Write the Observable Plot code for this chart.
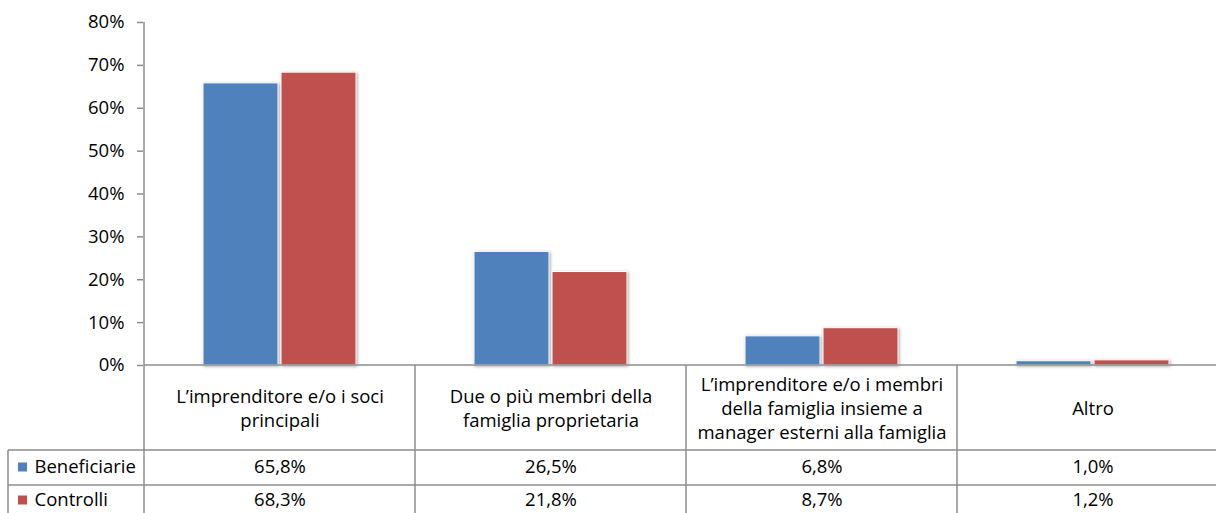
<!DOCTYPE html>
<html>
<head>
<meta charset="utf-8">
<script src="https://cdn.jsdelivr.net/npm/d3@7"></script>
<script src="https://cdn.jsdelivr.net/npm/@observablehq/plot@0.6"></script>
<style>
  html, body { margin: 0; padding: 0; background: #fff; overflow: hidden; }
  #chart { width: 1216px; height: 513px; }
</style>
</head>
<body>
<div id="chart"></div>
<script>
// ---- data ----
const categories = [
  "L’imprenditore e/o i soci principali",
  "Due o più membri della famiglia proprietaria",
  "L’imprenditore e/o i membri della famiglia insieme a manager esterni alla famiglia",
  "Altro"
];
const categoryLabels = [
  "L’imprenditore e/o i soci\nprincipali",
  "Due o più membri della\nfamiglia proprietaria",
  "L’imprenditore e/o i membri\ndella famiglia insieme a\nmanager esterni alla famiglia",
  "Altro"
];
const seriesNames = ["Beneficiarie", "Controlli"];
const beneficiarie = [65.8, 26.5, 6.8, 1.0];
const controlli = [68.3, 21.8, 8.7, 1.2];
const yTicks = [0, 10, 20, 30, 40, 50, 60, 70, 80];
const colors = ["#4F81BD", "#C0504D"];

// ---- derived tables ----
const fmt = v => v.toFixed(1).replace(".", ",") + "%";
const rowsB = categories.map((c, i) => ({cat: c, value: beneficiarie[i], label: categoryLabels[i]}));
const rowsC = categories.map((c, i) => ({cat: c, value: controlli[i], label: categoryLabels[i]}));

const gridColor = "#8c8c8c";
const font = "'Open Sans', Lato, sans-serif";
const fs = 18.5;

const plot = Plot.plot({
  width: 1216,
  height: 513,
  marginTop: 22,
  marginBottom: 148,
  marginLeft: 143,
  marginRight: 0,
  style: {fontFamily: font, fontSize: fs + "px", color: "#000", background: "#fff"},
  x: {domain: categories, range: [143, 1229], padding: 0, axis: null},
  y: {domain: [0, 80], axis: null},
  marks: [
    Plot.axisY({ticks: yTicks, tickFormat: d => d + "%", tickSize: 6, tickPadding: 13,
                stroke: gridColor, fill: "#000", fontSize: fs, label: null, strokeWidth: 1.5}),
    Plot.barY(rowsB, {x: "cat", y: "value", fill: colors[0], stroke: "#fff", strokeWidth: 1,
                      insetLeft: 59, insetRight: 137}),
    Plot.barY(rowsC, {x: "cat", y: "value", fill: colors[1], stroke: "#fff", strokeWidth: 1,
                      insetLeft: 137, insetRight: 59}),
    // header row: category labels
    Plot.text(rowsB, {x: "cat", text: "label", frameAnchor: "bottom", dy: 42,
                      lineAnchor: "middle", lineHeight: 24 / fs, fontSize: fs, fill: "#000"}),
    // value rows
    Plot.text(rowsB, {x: "cat", text: d => fmt(d.value), frameAnchor: "bottom", dy: 102,
                      lineAnchor: "middle", fontSize: fs, fill: "#000"}),
    Plot.text(rowsC, {x: "cat", text: d => fmt(d.value), frameAnchor: "bottom", dy: 135,
                      lineAnchor: "middle", fontSize: fs, fill: "#000"}),
    // legend labels inside the table
    Plot.text([seriesNames[0]], {text: d => d, frameAnchor: "bottom-left", dx: -109, dy: 102,
                      textAnchor: "start", lineAnchor: "middle", fontSize: fs, fill: "#000"}),
    Plot.text([seriesNames[1]], {text: d => d, frameAnchor: "bottom-left", dx: -109, dy: 135,
                      textAnchor: "start", lineAnchor: "middle", fontSize: fs, fill: "#000"})
  ]
});

document.getElementById("chart").appendChild(plot);

// ---- table grid & axis lines drawn from the plot's own scales ----
const xs = plot.scale("x");
const ys = plot.scale("y");
const y0 = ys.apply(0);
const yTop = ys.apply(80);
const svg = d3.select(plot);

svg.selectAll("g[aria-label='bar']").style("filter", "drop-shadow(1px 1px 1.5px rgba(0,0,0,0.35))");

const g = svg.append("g").attr("stroke", gridColor).attr("stroke-width", 1.5).attr("fill", "none");
const left = xs.apply(categories[0]);
const headerBottom = y0 + 85;
const row1Bottom = y0 + 120;
// axis line
g.append("line").attr("x1", left).attr("x2", left).attr("y1", yTop).attr("y2", 513);
g.append("line").attr("x1", left).attr("x2", 1216).attr("y1", y0).attr("y2", y0);
// column separators
categories.slice(1).forEach(c => {
  const x = xs.apply(c);
  g.append("line").attr("x1", x).attr("x2", x).attr("y1", y0).attr("y2", 513);
});
// row lines
[headerBottom, row1Bottom].forEach(y => {
  g.append("line").attr("x1", 8).attr("x2", 1216).attr("y1", y).attr("y2", y);
});
g.append("line").attr("x1", 8).attr("x2", 8).attr("y1", headerBottom).attr("y2", 513);
// legend swatches
[y0 + 102, y0 + 135].forEach((y, i) => {
  svg.append("rect").attr("x", 18).attr("y", y - 4.5).attr("width", 9).attr("height", 9).attr("fill", colors[i]);
});
</script>
</body>
</html>
